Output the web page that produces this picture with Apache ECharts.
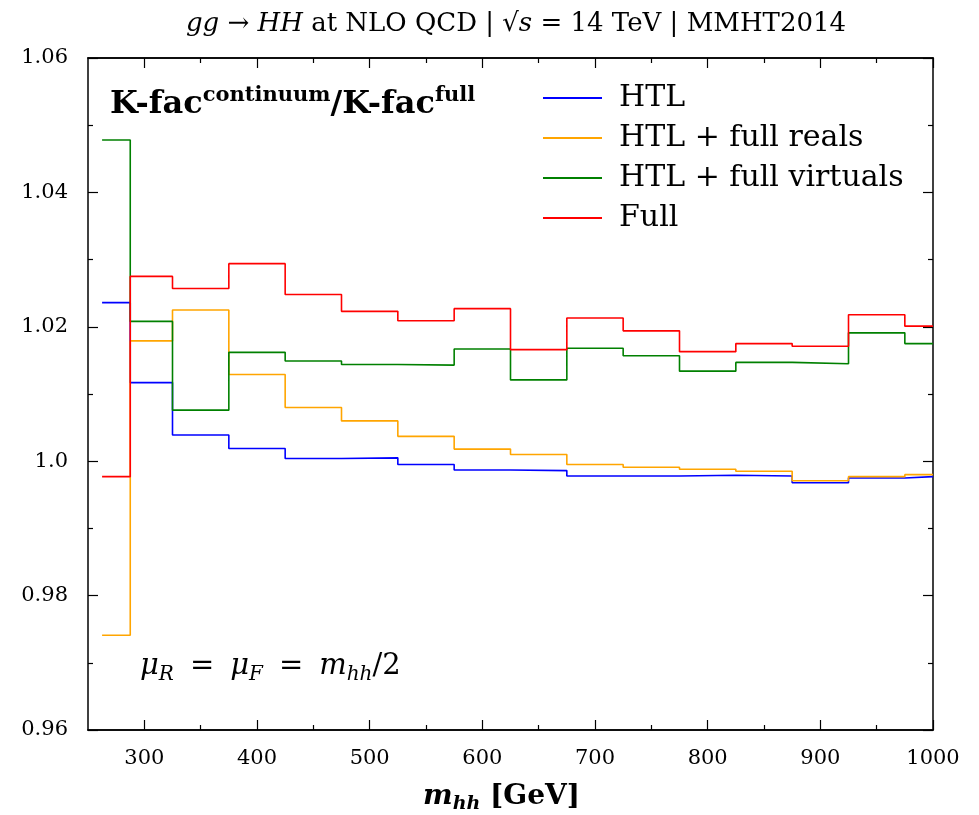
<!DOCTYPE html>
<html>
<head>
<meta charset="utf-8">
<title>K-fac ratio</title>
<script src="https://cdn.jsdelivr.net/npm/echarts@6/dist/echarts.min.js"></script>
<style>
    html, body { margin: 0; padding: 0; background: #fff; }
    #main { width: 979px; height: 815px; }
</style>
</head>
<body>
<div id="main"></div>
<script>
// bin edges of m_hh [GeV]
let edges = [262.5, 287.5, 325, 375, 425, 475, 525, 575, 625, 675, 725, 775, 825, 875, 925, 975, 1000];
// one value per bin
let htl = [1.0236, 1.0117, 1.0039, 1.0019, 1.0004, 1.0005, 0.9995, 0.9987, 0.9986, 0.9978, 0.9978, 0.9979, 0.9978, 0.9968, 0.9975, 0.9977];
let htlReals = [0.9741, 1.0179, 1.0225, 1.0129, 1.0080, 1.0060, 1.0037, 1.0018, 1.0010, 0.9995, 0.9991, 0.9988, 0.9985, 0.9971, 0.9977, 0.9980];
let htlVirtuals = [1.0478, 1.0208, 1.0076, 1.0162, 1.0149, 1.0144, 1.0143, 1.0167, 1.0121, 1.0168, 1.0157, 1.0134, 1.0147, 1.0145, 1.0191, 1.0175];
let full = [0.9977, 1.0275, 1.0257, 1.0294, 1.0248, 1.0223, 1.0209, 1.0227, 1.0166, 1.0213, 1.0194, 1.0163, 1.0175, 1.0171, 1.0218, 1.0201];
let xMajor = [300, 400, 500, 600, 700, 800, 900, 1000];
let xMinor = [350, 450, 550, 650, 750, 850, 950];

let serif = 'DejaVu Serif';

// histogram -> step points
function steps(vals) {
    let pts = [];
    for (let i = 0; i < vals.length; i++) pts.push([edges[i], vals[i]]);
    pts.push([edges[edges.length - 1], vals[vals.length - 1]]);
    return pts;
}

function xAx(pos, ticks, len, showLabel) {
    return {
        type: 'value', position: pos, min: 250, max: 1000,
        axisLine: {show: true, onZero: false, lineStyle: {color: '#000', width: 1.5}},
        splitLine: {show: false},
        axisTick: {show: true, inside: true, length: len, customValues: ticks, lineStyle: {color: '#000', width: 1.2}},
        axisLabel: {
            show: showLabel, customValues: ticks, margin: 18, color: '#000', fontFamily: serif, fontSize: 21,
            formatter: function (v) { return String(v); }
        }
    };
}

function yAx(pos, showLabel) {
    return {
        type: 'value', position: pos, min: 0.96, max: 1.06, interval: 0.02,
        axisLine: {show: true, onZero: false, lineStyle: {color: '#000', width: 1.5}},
        splitLine: {show: false},
        axisTick: {show: true, inside: true, length: 10, lineStyle: {color: '#000', width: 1.2}},
        minorTick: {show: true, splitNumber: 2, length: 5, lineStyle: {color: '#000', width: 1.2}},
        axisLabel: {
            show: showLabel, margin: 20, color: '#000', fontFamily: serif, fontSize: 21,
            formatter: function (v) {
                return Math.abs(v - 1) < 1e-9 ? '1.0' : v.toFixed(2);
            }
        }
    };
}

let myChart = echarts.init(document.getElementById('main'));
let xAxes = [xAx('bottom', xMajor, 10, true), xAx('bottom', xMinor, 5, false), xAx('top', xMajor, 10, false), xAx('top', xMinor, 5, false)];
xAxes[0].name = '{m|m}{s|hh}{g| [GeV]}';
xAxes[0].nameLocation = 'middle';
xAxes[0].nameGap = 50;
xAxes[0].nameTextStyle = {
    color: '#000',
    padding: [0, 18, 0, 0],
    rich: {
        m: {fontFamily: serif, fontSize: 28, fontWeight: 'bold', fontStyle: 'italic', color: '#000', lineHeight: 34},
        s: {fontFamily: serif, fontSize: 19, fontWeight: 'bold', fontStyle: 'italic', color: '#000', lineHeight: 18, padding: [15, 0, 0, 0]},
        g: {fontFamily: serif, fontSize: 28, fontWeight: 'bold', color: '#000', lineHeight: 34}
    }
};

let names = ['HTL', 'HTL + full reals', 'HTL + full virtuals', 'Full'];
let colors = ['#0000ff', '#ffa500', '#008000', '#ff0000'];
let sets = [htl, htlReals, htlVirtuals, full];
let series = [];
for (let i = 0; i < 4; i++) {
    series.push({
        name: names[i], type: 'line', step: 'end', symbol: 'none',
        data: steps(sets[i]),
        color: colors[i],
        lineStyle: {width: 1.6, color: colors[i]},
        silent: true, animation: false
    });
}

let option = {
    animation: false,
    grid: {left: 88, right: 46, top: 58, bottom: 85, containLabel: false, outerBoundsMode: 'none'},
    title: {
        text: '{i|gg} → {i|HH} at NLO QCD | √{i|s} = 14 TeV | MMHT2014',
        left: 511, top: 6, textAlign: 'center',
        textStyle: {
            fontFamily: serif, fontSize: 26, fontWeight: 'normal', color: '#000',
            rich: {i: {fontFamily: serif, fontSize: 26, fontStyle: 'italic', color: '#000'}}
        }
    },
    legend: {
        orient: 'vertical', left: 543, top: 78, padding: 0, itemWidth: 59, itemHeight: 2, itemGap: 0,
        icon: 'rect',
        data: names,
        textStyle: {fontFamily: serif, fontSize: 30, color: '#000', lineHeight: 40, padding: [0, 0, 0, 12]}
    },
    xAxis: xAxes,
    yAxis: [yAx('left', true), yAx('right', false)],
    graphic: [{
        type: 'text', left: 110, top: 85,
        style: {
            text: '{b|K-fac}{p|continuum}{b|/K-fac}{p|full}',
            rich: {
                b: {fontFamily: serif, fontSize: 32, fontWeight: 'bold', fill: '#000', lineHeight: 40},
                p: {fontFamily: serif, fontSize: 21, fontWeight: 'bold', fill: '#000', lineHeight: 20, padding: [0, 0, 19, 0]}
            }
        }
    }, {
        type: 'text', left: 140, top: 648,
        style: {
            text: '{i|μ}{s|R}{e|=}{i|μ}{s|F}{e|=}{i|m}{s|hh}{n|/2}',
            rich: {
                i: {fontFamily: serif, fontSize: 29, fontStyle: 'italic', fill: '#000', lineHeight: 40},
                n: {fontFamily: serif, fontSize: 29, fill: '#000', lineHeight: 40},
                e: {fontFamily: serif, fontSize: 29, fill: '#000', lineHeight: 40, padding: [0, 16, 0, 16]},
                s: {fontFamily: serif, fontSize: 20, fontStyle: 'italic', fill: '#000', lineHeight: 20, padding: [17, 0, 0, 0]}
            }
        }
    }],
    series: series
};
myChart.setOption(option);
</script>
</body>
</html>
